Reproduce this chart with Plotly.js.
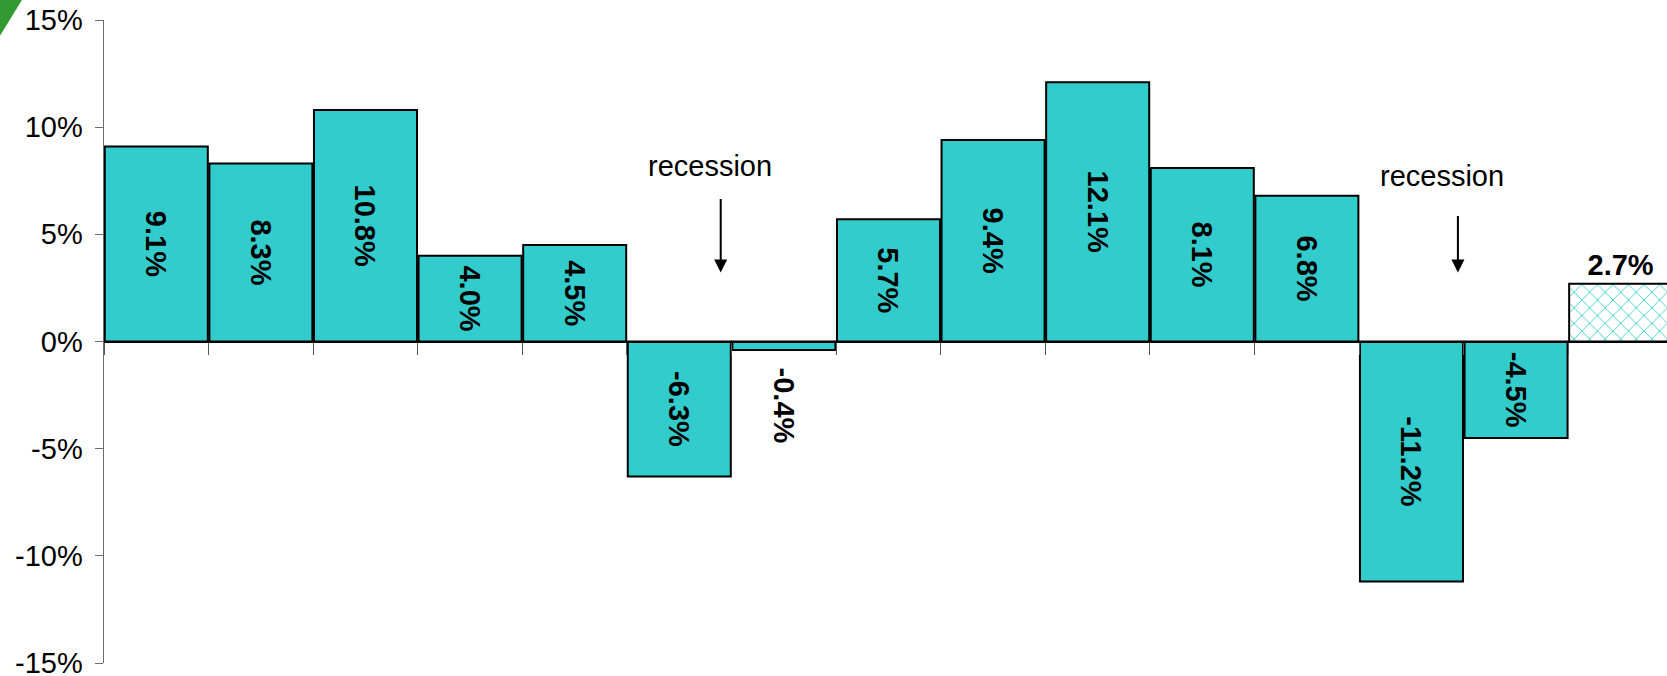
<!DOCTYPE html>
<html>
<head>
<meta charset="utf-8">
<script src="https://cdn.plot.ly/plotly-3.0.1.min.js"></script>
<style>
  html, body { margin: 0; padding: 0; background: #ffffff; }
  #chart { width: 1667px; height: 676px; }
</style>
</head>
<body>
<div id="chart"></div>
<script>
// ---- data ----
var categories = ['P1','P2','P3','P4','P5','P6','P7','P8','P9','P10','P11','P12','P13','P14','P15'];
var actualValues = [9.1, 8.3, 10.8, 4.0, 4.5, -6.3, -0.4, 5.7, 9.4, 12.1, 8.1, 6.8, -11.2, -4.5];
var forecastValues = [2.7];
var yTickValues = [-15, -10, -5, 0, 5, 10, 15];
var annotationText = 'recession';

var FONT = 'Arial, "Liberation Sans", sans-serif';
var TEAL = '#33CCCC';

var actualCats = categories.slice(0, actualValues.length);
var forecastCats = categories.slice(actualValues.length);

function fmt(v) { return v.toFixed(1) + '%'; }
// small bars get their label outside (below the bar end), like the original
var actualPos = actualValues.map(function (v) { return Math.abs(v) < 1 ? 'outside' : 'inside'; });
var actualText = actualValues.map(function (v) { return Math.abs(v) < 1 ? '\u2002' + fmt(v) : fmt(v); });

var traces = [
  {
    type: 'bar',
    x: actualCats,
    y: actualValues,
    text: actualText,
    textposition: actualPos,
    insidetextanchor: 'middle',
    textangle: 90,
    constraintext: 'none',
    textfont: { family: FONT, size: 29, color: '#000000', weight: 'bold' },
    marker: { color: TEAL, line: { color: '#000000', width: 2 } },
    hoverinfo: 'skip',
    cliponaxis: true
  },
  {
    type: 'bar',
    x: forecastCats,
    y: forecastValues,
    text: forecastValues.map(fmt),
    textposition: 'outside',
    textangle: 0,
    constraintext: 'none',
    textfont: { family: FONT, size: 29, color: '#000000', weight: 'bold' },
    marker: {
      color: '#ffffff',
      line: { color: '#000000', width: 2 },
      pattern: { shape: 'x', fgcolor: TEAL, bgcolor: '#ffffff', size: 11, solidity: 0.15 }
    },
    hoverinfo: 'skip'
  }
];

var layout = {
  width: 1667,
  height: 676,
  margin: { l: 104, r: 0, t: 20, b: 13, pad: 0 },
  paper_bgcolor: '#ffffff',
  plot_bgcolor: '#ffffff',
  showlegend: false,
  barmode: 'overlay',
  bargap: 0.015,
  font: { family: FONT, color: '#000000' },
  xaxis: {
    type: 'category',
    categoryorder: 'array',
    categoryarray: categories,
    range: [-0.5, 14.443],
    anchor: 'free',
    position: 0.5,
    side: 'bottom',
    showline: true,
    linecolor: '#000000',
    linewidth: 2,
    ticks: 'outside',
    tickson: 'boundaries',
    ticklen: 12,
    tickwidth: 1,
    tickcolor: '#555555',
    showticklabels: false,
    showgrid: false,
    zeroline: false,
    fixedrange: true
  },
  yaxis: {
    range: [-15, 15],
    tickvals: yTickValues,
    ticktext: yTickValues.map(function (v) { return v + '%'; }),
    showline: true,
    linecolor: '#6e6e6e',
    linewidth: 1.5,
    ticks: 'outside',
    ticklen: 8,
    tickwidth: 1,
    tickcolor: '#6e6e6e',
    ticklabelstandoff: 6,
    ticklabeloverflow: 'allow',
    tickfont: { family: FONT, size: 29, color: '#000000' },
    showgrid: false,
    zeroline: false,
    fixedrange: true
  },
  annotations: [
    { x: 5.293, y: 8.17, xref: 'x', yref: 'y', text: annotationText, showarrow: false,
      font: { family: FONT, size: 29, color: '#000000' }, xanchor: 'center', yanchor: 'middle' },
    { x: 12.29, y: 7.72, xref: 'x', yref: 'y', text: annotationText, showarrow: false,
      font: { family: FONT, size: 29, color: '#000000' }, xanchor: 'center', yanchor: 'middle' },
    { x: 5.396, y: 3.22, xref: 'x', yref: 'y', ax: 5.396, ay: 6.72, axref: 'x', ayref: 'y',
      text: '', showarrow: true, arrowhead: 2, arrowsize: 1.3, arrowwidth: 2, arrowcolor: '#000000', standoff: 0 },
    { x: 12.444, y: 3.22, xref: 'x', yref: 'y', ax: 12.444, ay: 5.93, axref: 'x', ayref: 'y',
      text: '', showarrow: true, arrowhead: 2, arrowsize: 1.3, arrowwidth: 2, arrowcolor: '#000000', standoff: 0 }
  ],
  shapes: [
    { type: 'path', xref: 'paper', yref: 'paper', layer: 'above',
      path: 'M -0.0666 1.0327 L -0.0521 1.0327 L -0.0666 0.9751 Z',
      fillcolor: '#339933', line: { width: 0 } }
  ]
};

Plotly.newPlot('chart', traces, layout, { staticPlot: true, displayModeBar: false });
</script>
</body>
</html>
